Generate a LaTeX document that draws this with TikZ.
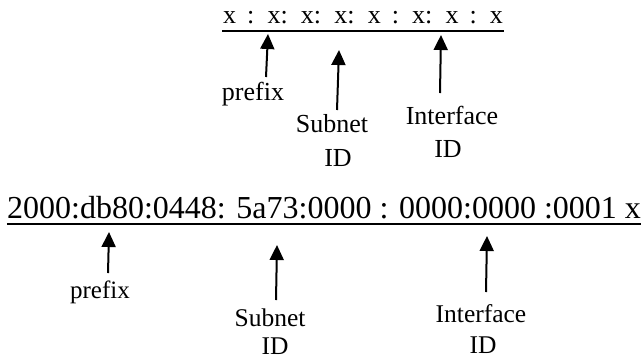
\documentclass[tikz,border=0pt]{standalone}
\usepackage{fontspec}
\setmainfont{Liberation Serif}
\usetikzlibrary{arrows.meta}
\tikzset{
  addr/.style={inner sep=0pt, anchor=base},
  lbl/.style={inner sep=0pt, anchor=base, align=center},
  ptr/.style={line width=2pt, -{Triangle[width=14pt,length=15pt]}},
  rule/.style={line width=2pt}
}
\begin{document}
\begin{tikzpicture}[x=1pt,y=-1pt]
\useasboundingbox (0,0) rectangle (641,360);

% generic address form (wide word spacing)
\node[addr, anchor=base west, font=\fontsize{26}{26}\selectfont] (gen) at (223,23)
  {\spaceskip=11pt\relax x : x: x: x: x : x: x : x};
\draw[rule] ([xshift=-1pt,yshift=-7.5pt]gen.base west) -- ([xshift=1pt,yshift=-7.5pt]gen.base east);

\node[lbl, font=\fontsize{26}{26}\selectfont] (gpre) at (253,100) {prefix};
\node[lbl, font=\fontsize{26}{26}\selectfont] (gsub) at (332,132) {Subnet};
\node[lbl, font=\fontsize{26}{26}\selectfont] (gsubid) at (338,166) {ID};
\node[lbl, font=\fontsize{26}{26}\selectfont] (gif) at (452,124) {Interface};
\node[lbl, font=\fontsize{26}{26}\selectfont] (gifid) at (448,157) {ID};

\coordinate (gpreT) at (266,77);  \coordinate (gpreH) at (268,34);
\coordinate (gsubT) at (337,110); \coordinate (gsubH) at (339,50);
\coordinate (gifT)  at (440,93);  \coordinate (gifH)  at (441,35);
\draw[ptr] (gpreT) -- (gpreH);
\draw[ptr] (gsubT) -- (gsubH);
\draw[ptr] (gifT) -- (gifH);

% example address
\node[addr, font=\fontsize{32}{32}\selectfont] (ex) at (324,218.5) {2000:db80:0448: 5a73:0000 : 0000:0000 :0001 x};
\draw[rule] ([yshift=-5.5pt]ex.base west) -- ([yshift=-5.5pt]ex.base east);

\node[lbl, font=\fontsize{25}{25}\selectfont] (epre) at (100,298) {prefix};
\node[lbl, font=\fontsize{25.5}{25.5}\selectfont] (esub) at (270,326) {Subnet};
\node[lbl, font=\fontsize{25.5}{25.5}\selectfont] (esubid) at (275,354) {ID};
\node[lbl, font=\fontsize{25.5}{25.5}\selectfont] (eif) at (481,322) {Interface};
\node[lbl, font=\fontsize{25.5}{25.5}\selectfont] (eifid) at (483,353) {ID};

\coordinate (epreT) at (108,273); \coordinate (epreH) at (109,232);
\coordinate (esubT) at (276,300); \coordinate (esubH) at (277,245);
\coordinate (eifT)  at (486,292); \coordinate (eifH)  at (487,236);
\draw[ptr] (epreT) -- (epreH);
\draw[ptr] (esubT) -- (esubH);
\draw[ptr] (eifT) -- (eifH);
\end{tikzpicture}
\end{document}
